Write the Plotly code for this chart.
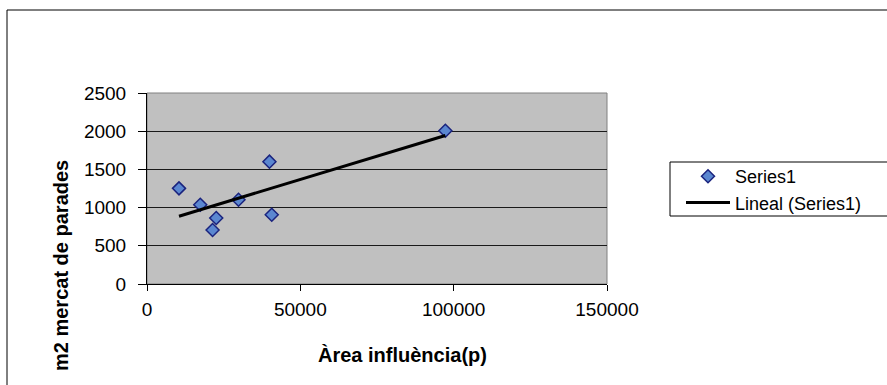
import numpy as np
import plotly.graph_objects as go

# Data
area_influencia = [10430, 17370, 29840, 22580, 21380, 39930, 40680, 97290]
m2_mercat = [1252, 1038, 1103, 864, 707, 1601, 907, 2006]
x_ticks = [0, 50000, 100000, 150000]
y_ticks = [0, 500, 1000, 1500, 2000, 2500]

# Linear trendline (least squares) computed from the data
slope, intercept = np.polyfit(area_influencia, m2_mercat, 1)
trend_x = [min(area_influencia), max(area_influencia)]
trend_y = [slope * v + intercept for v in trend_x]

FONT = "Liberation Sans, Arial, sans-serif"

fig = go.Figure()
fig.add_trace(go.Scatter(
    x=area_influencia, y=m2_mercat, mode="markers", name="Series1",
    marker=dict(symbol="diamond", size=10, color="#5B87D0",
                line=dict(color="#1A237E", width=1.5)),
))
fig.add_trace(go.Scatter(
    x=trend_x, y=trend_y, mode="lines", name="Lineal (Series1)",
    line=dict(color="black", width=3),
))

L, R, T, B = 147, 280, 93, 101
W, H = 887, 385
pw, ph = W - L - R, H - T - B

def px_x(p):
    return (p - L) / pw

def px_y(p):
    return (H - B - p) / ph

fig.update_layout(
    width=W, height=H,
    margin=dict(l=L, r=R, t=T, b=B, pad=0),
    paper_bgcolor="white", plot_bgcolor="#C0C0C0",
    font=dict(family=FONT, size=19, color="black"),
    showlegend=True,
    legend=dict(x=px_x(681), y=px_y(158), xanchor="left", yanchor="top",
                bgcolor="rgba(0,0,0,0)", borderwidth=0,
                font=dict(size=18), tracegroupgap=0, itemwidth=44),
    xaxis=dict(range=[0, 150000], tickvals=x_ticks, ticks="outside", ticklen=6,
               tickcolor="black", showline=True, linecolor="black", linewidth=1,
               showgrid=False, zeroline=False, mirror=False, tickformat="d",
               ticklabelstandoff=2),
    yaxis=dict(range=[0, 2500], tickvals=y_ticks, ticks="outside", ticklen=8,
               tickcolor="black", showline=True, linecolor="black", linewidth=1,
               showgrid=True, gridcolor="#1a1a1a", gridwidth=1, zeroline=False,
               tickformat="d", ticklabelstandoff=8),
    shapes=[
        # plot area border (top/right)
        dict(type="rect", xref="paper", yref="paper", x0=0, x1=1, y0=0, y1=1,
             line=dict(color="#808080", width=1), layer="below"),
        # outer chart border
        dict(type="rect", xref="paper", yref="paper",
             x0=px_x(7), x1=px_x(920), y0=px_y(420), y1=px_y(10),
             line=dict(color="black", width=1)),
        # legend box
        dict(type="rect", xref="paper", yref="paper",
             x0=px_x(670), x1=px_x(920), y0=px_y(216), y1=px_y(162),
             line=dict(color="black", width=1)),
    ],
    annotations=[
        dict(text="<b>Àrea influència(p)</b>", xref="paper", yref="paper",
             x=px_x(402), y=px_y(355), xanchor="center", yanchor="middle",
             showarrow=False, font=dict(size=20, family=FONT)),
        dict(text="<b>m2 mercat de parades</b>", xref="paper", yref="paper",
             x=px_x(61), y=px_y(266), xanchor="center", yanchor="middle",
             showarrow=False, textangle=-90, font=dict(size=20, family=FONT)),
    ],
)

fig.write_html("out.html")
